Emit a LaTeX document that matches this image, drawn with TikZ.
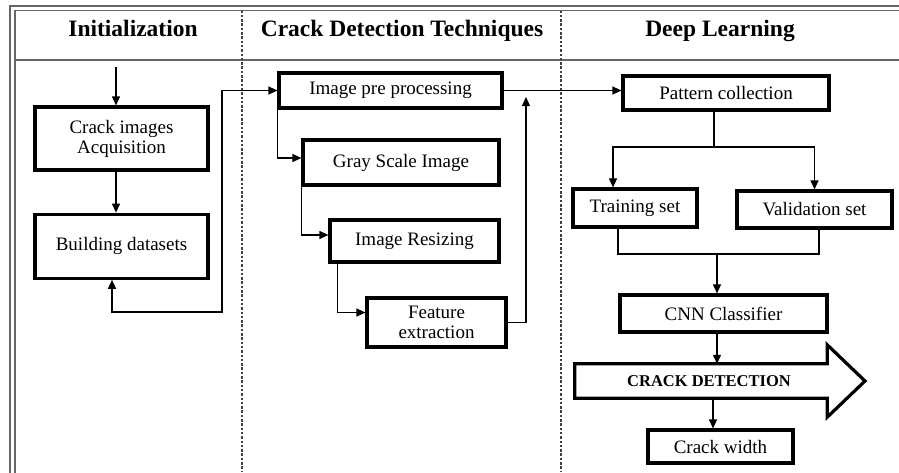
\documentclass[tikz,border=0pt]{standalone}
\usepackage{fontspec}
\setmainfont{Liberation Serif}
\usetikzlibrary{positioning, arrows.meta}

\begin{document}
\begin{tikzpicture}[x=1pt, y=-1pt, >={Triangle[length=9pt, width=8pt]},
    block/.style={draw, line width=3.2pt, fill=white, inner sep=0pt, align=center, font=\fontsize{19}{20}\selectfont},
    head/.style={anchor=base, font=\fontsize{23.5}{26}\selectfont\bfseries},
    link/.style={line width=1.2pt},
    arr/.style={link, ->},
    frame/.style={line width=1.5pt, black!60},
    lane/.style={line width=1.4pt, black!75, dash pattern=on 2.5pt off 1.8pt}]
    \useasboundingbox (0,0) rectangle (899,472);
    \clip (0,0) rectangle (899,472);
    % Frame and lanes
    \draw [frame] (10,6) rectangle (930,500);
    \draw [frame] (15,10.5) rectangle (925,495);
    \draw [frame] (15,60) -- (899,60);
    \draw [lane] (242,10.5) -- (242,472);
    \draw [lane] (561,10.5) -- (561,472);
    % Headings
    \node (hinit) [head] at (133,36) {Initialization};
    \node (hcrack) [head] at (402,36) {Crack Detection Techniques};
    \node (hdeep) [head] at (720,36) {Deep Learning};
    % Initialization
    \node (acq) [block, minimum width=173pt, minimum height=63pt] at (121.5,138.5) {Crack images\\Acquisition};
    \node (build) [block, minimum width=173pt, minimum height=64pt, below=41pt of acq] {Building datasets};
    \coordinate (start) at (116,67);
    \coordinate (bend) at (222,312);
    \draw [arr] (start) -- (start |- acq.north);
    \draw [arr] ([xshift=-5.5pt]acq.south) -- ([xshift=-5.5pt]build.north);
    % Crack detection techniques
    \node (prep) [block, minimum width=223pt, minimum height=35pt] at (390.5,90.5) {Image pre processing};
    \node (gray) [block, minimum width=196pt, minimum height=45pt] at (401,162.5) {Gray Scale Image};
    \node (resize) [block, minimum width=169pt, minimum height=42pt] at (414.5,241) {Image Resizing};
    \node (feat) [block, minimum width=139pt, minimum height=49pt] at (436.5,322.5) {Feature\\extraction};
    \coordinate (up) at (526,97);
    \draw [link, <->] ([xshift=-9.5pt]build.south) |- (bend) -- (bend |- prep.west) -- (prep.west);
    \draw [arr] (prep.south west) |- ([yshift=4.5pt]gray.west);
    \draw [arr] (gray.south west) |- ([yshift=6pt]resize.west);
    \draw [arr] ([xshift=9pt]resize.south west) |- ([yshift=10pt]feat.west);
    \draw [arr] (feat.east) -| (up);
    % Deep learning
    \node (pattern) [block, minimum width=206pt, minimum height=34pt] at (726,93) {Pattern collection};
    \node (train) [block, minimum width=124pt, minimum height=38pt] at (635,208) {Training set};
    \node (valid) [block, minimum width=155pt, minimum height=37pt] at (814.5,209.5) {Validation set};
    \node (cnn) [block, minimum width=207pt, minimum height=37pt] at (723.5,313.5) {CNN Classifier};
    \node (detbody) [minimum width=252pt, minimum height=34pt, inner sep=0pt] at (701,381) {};
    \node (width) [block, minimum width=145pt, minimum height=33pt] at (720.5,446.5) {Crack width};
    \coordinate (split) at (714,147);
    \coordinate (merge) at (717,254);
    \coordinate (tip) at (865,381);
    \coordinate (wtop) at ([xshift=-7.5pt]width.north);
    \draw [arr] (prep.east) -- (prep.east -| pattern.west);
    \draw [link] ([xshift=-12pt]pattern.south) -- (split);
    \draw [arr] (split) -| ([xshift=-22pt]train.north);
    \draw [arr] (split) -| (valid.north);
    \draw [link] ([xshift=-17pt]train.south) |- (merge);
    \draw [link] ([xshift=4.5pt]valid.south) |- (merge);
    \draw [arr] (merge) -- (merge |- cnn.north);
    \draw [line width=3.2pt, line join=miter, fill=white] (detbody.north west) -- (detbody.north east) -- ++(0,-19) -- (tip) -- ([yshift=-19pt]detbody.south east) -- (detbody.south east) -- (detbody.south west) -- cycle;
    \node (detect) [font=\fontsize{16.5}{18}\selectfont\bfseries] at (709,381) {CRACK DETECTION};
    \draw [arr] (merge |- cnn.south) -- (merge |- detbody.north);
    \draw [arr] (wtop |- detbody.south) -- (wtop);
\end{tikzpicture}
\end{document}
